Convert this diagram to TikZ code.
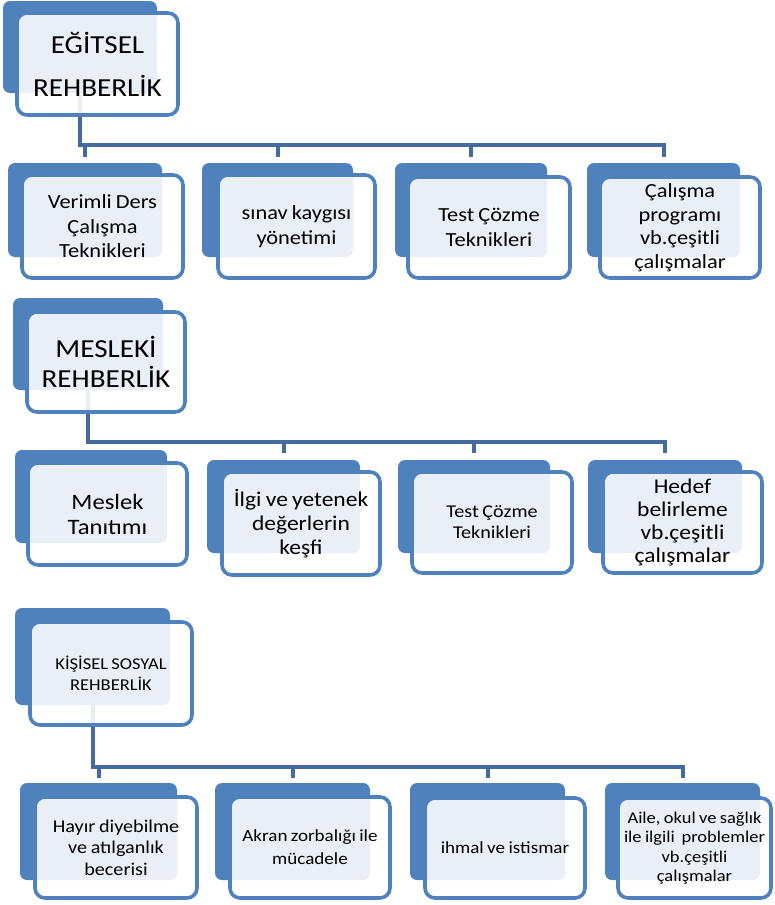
\documentclass[tikz,border=0pt]{standalone}
\usepackage{fontspec}
\setmainfont{Carlito}[FakeStretch=1.12,WordSpace=0.8]
\usetikzlibrary{calc}
\definecolor{boxblue}{HTML}{4F81BD}
\definecolor{connblue}{HTML}{446B9F}
\pgfdeclarelayer{backl}
\pgfdeclarelayer{frontl}
\pgfsetlayers{backl,main,frontl}
\tikzset{
  backbox/.style n args={2}{fill=boxblue, draw=none, rounded corners=7pt,
    minimum width=#1, minimum height=#2, anchor=north west, inner sep=0pt, outer sep=0pt},
  frontbox/.style n args={2}{draw=boxblue, line width=3.6pt, fill=white, fill opacity=0.88,
    text opacity=1, rounded corners=10pt, minimum width=#1, minimum height=#2,
    anchor=north west, inner sep=0pt, outer sep=0pt, align=center, text=black},
  conn/.style={draw=connblue, line width=4pt},
  fs/.style n args={2}{font=\fontsize{#1}{#2}\selectfont},
}
\begin{document}
\begin{tikzpicture}[x=1pt,y=-1pt]
\useasboundingbox (0,0) rectangle (774,905);

% ---------------- back boxes
\begin{pgfonlayer}{backl}
\node[backbox={154pt}{92pt}] (h1b) at (3,1) {};
\node[backbox={154pt}{94pt}] (c11b) at (8,163) {};
\node[backbox={151pt}{94pt}] (c12b) at (202,163) {};
\node[backbox={152pt}{94pt}] (c13b) at (395,163) {};
\node[backbox={153pt}{94pt}] (c14b) at (587,163) {};

\node[backbox={150pt}{92pt}] (h2b) at (13,298) {};
\node[backbox={152pt}{93pt}] (c21b) at (15,450) {};
\node[backbox={153pt}{93pt}] (c22b) at (207,460) {};
\node[backbox={152pt}{93pt}] (c23b) at (398,460) {};
\node[backbox={154pt}{93pt}] (c24b) at (588,460) {};

\node[backbox={155pt}{97pt}] (h3b) at (15,608) {};
\node[backbox={157pt}{97pt}] (c31b) at (20,783) {};
\node[backbox={155pt}{97pt}] (c32b) at (215,783) {};
\node[backbox={155pt}{97pt}] (c33b) at (410,783) {};
\node[backbox={155pt}{97pt}] (c34b) at (605,783) {};
\end{pgfonlayer}

% ---------------- connectors
\coordinate (bus1) at (0,145);
\coordinate (bus2) at (0,442);
\coordinate (bus3) at (0,767);

\draw[conn] (h1b.south) |- (bus1 -| c14b.north) -- ([yshift=6pt]c14b.north);
\foreach \c in {c11b,c12b,c13b}
  \draw[conn] (bus1 -| \c.north) -- ([yshift=6pt]\c.north);

\draw[conn] (h2b.south) |- (bus2 -| c24b.north) -- ([yshift=7pt]c24b.north);
\foreach \c in {c22b,c23b}
  \draw[conn] (bus2 -| \c.north) -- ([yshift=7pt]\c.north);

\draw[conn] (h3b.south) |- (bus3 -| c34b.north) -- ([yshift=5pt]c34b.north);
\foreach \c in {c31b,c32b,c33b}
  \draw[conn] (bus3 -| \c.north) -- ([yshift=5pt]\c.north);

% ---------------- front boxes
\begin{pgfonlayer}{frontl}
\node[frontbox={161pt}{102pt}, fs={26}{43}] (h1f) at (17,13) {EĞİTSEL\\REHBERLİK};
\node[frontbox={161pt}{103pt}, fs={20}{24.5}] (c11f) at (22,175) {Verimli Ders\\Çalışma\\Teknikleri};
\node[frontbox={157pt}{103pt}, fs={20}{24.5}] (c12f) at (218,175) {sınav kaygısı\\yönetimi};
\node[frontbox={162pt}{101pt}, fs={20}{24.5}] (c13f) at (408,177) {Test Çözme\\Teknikleri};
\node[frontbox={160pt}{101pt}, fs={20}{23.5}] (c14f) at (600,177) {Çalışma\\programı\\vb.çeşitli\\çalışmalar};

\node[frontbox={158pt}{100pt}, fs={26}{30}] (h2f) at (27,312) {MESLEKİ\\REHBERLİK};
\node[frontbox={159pt}{102pt}, fs={22}{25}] (c21f) at (28,463) {Meslek\\Tanıtımı};
\node[frontbox={158pt}{103pt}, fs={21}{24}] (c22f) at (222,472) {İlgi ve yetenek\\değerlerin\\keşfi};
\node[frontbox={160pt}{101pt}, fs={18}{21}] (c23f) at (412,472) {Test Çözme\\Teknikleri};
\node[frontbox={159pt}{101pt}, fs={21}{23}] (c24f) at (603,472) {Hedef\\belirleme\\vb.çeşitli\\çalışmalar};

\node[frontbox={162pt}{103pt}, fs={16.5}{21}] (h3f) at (30,622) {KİŞİSEL SOSYAL\\REHBERLİK};
\node[frontbox={162pt}{101pt}, fs={18}{21.5}] (c31f) at (35,797) {Hayır diyebilme\\ve atılganlık\\becerisi};
\node[frontbox={160pt}{101pt}, fs={17}{23}] (c32f) at (230,797) {Akran zorbalığı ile\\mücadele};
\node[frontbox={160pt}{100pt}, fs={17}{21}] (c33f) at (425,798) {ihmal ve istismar};
\node[frontbox={153pt}{100pt}, fs={16.5}{19.5}] (c34f) at (618,798) {Aile, okul ve sağlık\\ile ilgili\ \ problemler\\vb.çeşitli\\çalışmalar};
\end{pgfonlayer}
\end{tikzpicture}
\end{document}
